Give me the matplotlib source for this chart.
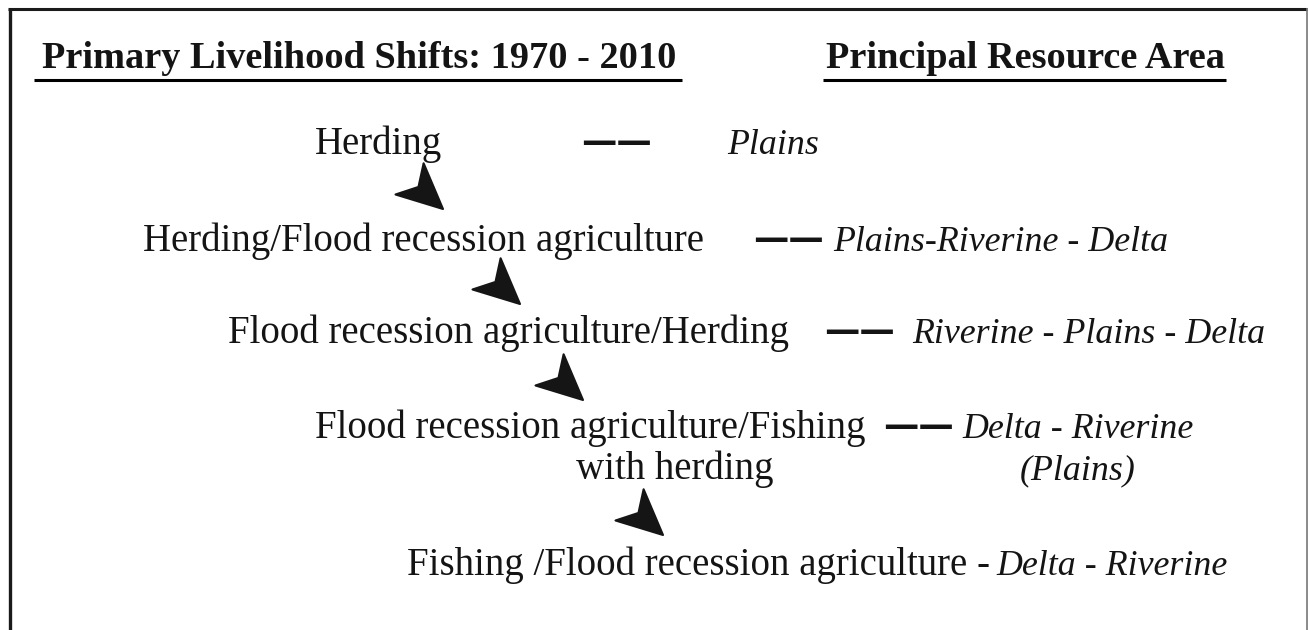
import matplotlib.pyplot as plt
import numpy as np
from matplotlib.patches import Polygon

# textos do diagrama
titulos = ["Primary Livelihood Shifts: 1970 - 2010", "Principal Resource Area"]
meios_de_vida = [
    "Herding",
    "Herding/Flood recession agriculture",
    "Flood recession agriculture/Herding",
    "Flood recession agriculture/Fishing",
    "Fishing /Flood recession agriculture - ",
]
segunda_linha = "with herding"
areas = [
    "Plains",
    "Plains-Riverine - Delta",
    "Riverine - Plains - Delta",
    "Delta - Riverine",
    "Delta - Riverine",
]
area_extra = "(Plains)"
tracos = ["——", "——", "——", "——", ""]

# layout em pixels (y cresce para baixo)
W, H = 1309, 630
base_y = [154, 251, 343, 438, 575]
x_meio = [315, 143, 228, 315, 407]
x_traco = [583, 755, 826, 885, None]
x_area = [727, 833, 912, 962, 996]
pontas = [(443, 209), (520, 304), (583, 400), (663, 535)]

fonte = "Liberation Serif"
tam_reg = 28
tam_ita = 25.8
tam_neg = 27.6
cor = "#141414"

fig = plt.figure(figsize=(W / 100, H / 100), dpi=100)
ax = fig.add_axes([0, 0, 1, 1])
ax.set_xlim(0, W)
ax.set_ylim(H, 0)
ax.axis("off")

# moldura (sem a borda de baixo, cortada)
ax.plot([9.5, 9.5], [H + 5, 9], color="#1a1a1a", lw=2.4, solid_capstyle="butt")
ax.plot([8, 1307], [9, 9], color="#1a1a1a", lw=2.2, solid_capstyle="butt")
ax.plot([1307, 1307], [9, H + 5], color="#777777", lw=1.2)

# titulos sublinhados
ax.text(42, 68, titulos[0], fontfamily=fonte, fontweight="bold", fontsize=tam_neg,
        ha="left", va="baseline", color=cor)
ax.plot([34, 682], [80, 80], color="black", lw=2.2, solid_capstyle="butt")
ax.text(826, 68, titulos[1], fontfamily=fonte, fontweight="bold", fontsize=tam_neg,
        ha="left", va="baseline", color=cor)
ax.plot([823, 1226], [80, 80], color="black", lw=2.2, solid_capstyle="butt")

for i in range(len(meios_de_vida)):
    ax.text(x_meio[i], base_y[i], meios_de_vida[i], fontfamily=fonte,
            fontsize=tam_reg, ha="left", va="baseline", color=cor)
    if tracos[i]:
        ax.text(x_traco[i] - 2, base_y[i] - 1, tracos[i], fontfamily="DejaVu Sans",
                fontweight="bold", fontsize=25.5, ha="left", va="baseline", color=cor)
    ax.text(x_area[i], base_y[i], areas[i], fontfamily=fonte, style="italic",
            fontsize=tam_ita, ha="left", va="baseline", color=cor)

ax.text(675, 479, segunda_linha, fontfamily=fonte, fontsize=tam_reg,
        ha="center", va="baseline", color=cor)
ax.text(1078, 479, area_extra, fontfamily=fonte, style="italic", fontsize=tam_ita,
        ha="center", va="baseline", color=cor)

# pontas de seta apontando para baixo/direita
forma = np.array([[0, 0], [-45, -21], [-33, 0], [-45, 21]])
ang = np.deg2rad(42)
rot = np.array([[np.cos(ang), -np.sin(ang)], [np.sin(ang), np.cos(ang)]])
for px, py in pontas:
    pts = forma @ rot.T + [px, py]
    ax.add_patch(Polygon(pts, closed=True, facecolor="#151515", edgecolor="#151515",
                         lw=1.5, joinstyle="round"))

fig.savefig("out.png", dpi=100, facecolor="white")
